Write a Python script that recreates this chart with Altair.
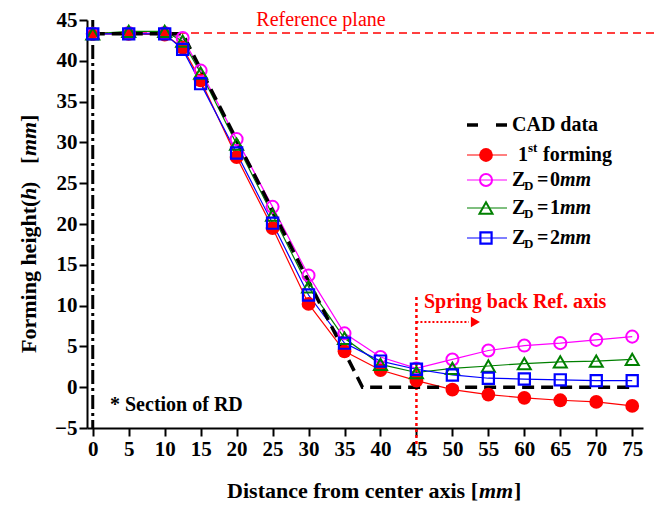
import altair as alt
import pandas as pd

# ---------------- data ----------------
x_vals = [0, 5, 10, 12.5, 15, 20, 25, 30, 35, 40, 45, 50, 55, 60, 65, 70, 75]
first_forming = [43.3, 43.3, 43.2, 41.6, 37.6, 28.2, 19.5, 10.2, 4.4, 2.1, 0.8, -0.3, -0.9, -1.3, -1.6, -1.8, -2.3]
zd0 = [43.3, 43.4, 43.4, 42.8, 38.8, 30.4, 22.1, 13.7, 6.6, 3.7, 2.3, 3.4, 4.5, 5.1, 5.4, 5.8, 6.2]
zd1 = [43.3, 43.6, 43.6, 42.4, 38.5, 29.8, 21.1, 12.3, 6.0, 2.8, 1.8, 2.3, 2.6, 2.9, 3.1, 3.2, 3.4]
zd2 = [43.3, 43.3, 43.3, 41.4, 37.2, 28.7, 20.1, 11.3, 5.4, 3.2, 2.2, 1.5, 1.1, 1.0, 0.9, 0.8, 0.8]
cad_x = [0, 12.5, 37.5, 75]
cad_y = [43.3, 43.3, 0, 0]
reference_plane = 43.4
spring_back_axis = 45
spring_arrow_end = 52.3
spring_arrow_head = 53.2
x_ticks = list(range(0, 80, 5))
y_ticks = list(range(-5, 50, 5))

series_names = ["1st forming", "ZD=0mm", "ZD=1mm", "ZD=2mm"]
series_values = [first_forming, zd0, zd1, zd2]
series_colors = ["#ff0000", "#ff00ff", "#008000", "#0000ff"]

rows = []
for name, vals in zip(series_names, series_values):
    for xv, yv in zip(x_vals, vals):
        rows.append({"series": name, "x": xv, "y": yv})
df = pd.DataFrame(rows)
cad_df = pd.DataFrame({"x": cad_x, "y": cad_y})
one = pd.DataFrame({"a": [0]})

SERIF = "'Liberation Serif', 'Times New Roman', Times, 'DejaVu Serif', serif"
W, H = 556, 408

xs = alt.Scale(domain=[-0.8, 76.5], nice=False, zero=False)
ys = alt.Scale(domain=[-5, 45], nice=False, zero=False)
x_axis = alt.Axis(values=x_ticks, title=None, grid=False, format="d")
y_axis = alt.Axis(values=y_ticks, title=None, grid=False, format="d")


def X(field="x"):
    return alt.X(f"{field}:Q", scale=xs, axis=x_axis)


def Y(field="y"):
    return alt.Y(f"{field}:Q", scale=ys, axis=y_axis)


layers = []

# vertical centre axis (dash-dot)
layers.append(
    alt.Chart(one).mark_rule(color="black", strokeWidth=3, strokeDash=[14, 4, 3, 4]).encode(
        x=alt.X(datum=0, scale=xs, axis=x_axis), y=alt.value(0), y2=alt.value(H)
    )
)

# reference plane
layers.append(
    alt.Chart(one).mark_rule(color="#ff0000", strokeWidth=1.5, strokeDash=[8, 5]).encode(
        y=alt.Y(datum=reference_plane, scale=ys, axis=y_axis), x=alt.value(0), x2=alt.value(W + 14)
    )
)

# spring back axis
layers.append(
    alt.Chart(one).mark_rule(color="#ff0000", strokeWidth=2.5, strokeDash=[3, 3]).encode(
        x=alt.X(datum=spring_back_axis, scale=xs, axis=x_axis), y=alt.value(277), y2=alt.value(425)
    )
)
layers.append(
    alt.Chart(one).mark_rule(color="#ff0000", strokeWidth=2, strokeDash=[2, 2]).encode(
        x=alt.X(datum=spring_back_axis, scale=xs, axis=x_axis),
        x2=alt.X2(datum=spring_arrow_end),
        y=alt.value(302),
    )
)
layers.append(
    alt.Chart(one).mark_point(shape="triangle-right", filled=True, color="#ff0000", size=110, opacity=1).encode(
        x=alt.X(datum=spring_arrow_head, scale=xs, axis=x_axis), y=alt.value(302)
    )
)

# series lines
layers.append(
    alt.Chart(df).mark_line(strokeWidth=1.2).encode(
        x=X(), y=Y(),
        color=alt.Color("series:N", scale=alt.Scale(domain=series_names, range=series_colors), legend=None),
        detail="series:N",
    )
)

# CAD data
layers.append(
    alt.Chart(cad_df).mark_line(color="black", strokeWidth=3.5, strokeDash=[12, 7]).encode(x=X(), y=Y())
)

# markers
marker_specs = [
    ("1st forming", dict(shape="circle", filled=True, size=190, color="#ff0000", opacity=1)),
    ("ZD=0mm", dict(shape="circle", filled=False, size=145, color="#ff00ff", strokeWidth=2, opacity=1)),
    ("ZD=1mm", dict(shape="triangle-up", filled=False, size=170, color="#008000", strokeWidth=2, opacity=1)),
    ("ZD=2mm", dict(shape="square", filled=False, size=125, color="#0000ff", strokeWidth=2.2, opacity=1)),
]
for name, spec in marker_specs:
    sub = df[df["series"] == name]
    layers.append(alt.Chart(sub).mark_point(**spec).encode(x=X(), y=Y()))


# ---------------- annotations ----------------
def txt(text, x, y, size=20, weight="bold", style="normal", color="black", align="left", angle=0, baseline="middle"):
    kw = dict(font=SERIF, fontSize=size, fontWeight=weight, fontStyle=style, color=color,
              align=align, baseline=baseline)
    if angle:
        kw["angle"] = angle
    return alt.Chart(pd.DataFrame({"t": [text]})).mark_text(**kw).encode(
        text="t:N", x=alt.value(x), y=alt.value(y)
    )


layers.append(txt("Reference plane", 234, 0, size=20, weight="normal", color="#ff0000", align="center"))
layers.append(txt("Spring back Ref. axis", 337, 282, size=20, color="#ff0000"))
layers.append(txt("* Section of RD", 23, 385, size=20))

# x title
layers.append(txt("Distance from center axis [", 391, 471, size=22, align="right"))
layers.append(txt("mm", 392, 471, size=22, style="italic"))
layers.append(txt("]", 427, 471, size=22))

# y title (rotated)
yt_x = -58
layers.append(txt("Forming height(", yt_x, 333, size=22, angle=270))
layers.append(txt("h", yt_x, 180, size=22, style="italic", angle=270))
layers.append(txt(")", yt_x, 169, size=22, angle=270))
layers.append(txt("[", yt_x, 144, size=22, angle=270))
layers.append(txt("mm", yt_x, 136, size=22, style="italic", angle=270))
layers.append(txt("]", yt_x, 102, size=22, angle=270))

# legend
LX1, LX2, LM, LT = 380, 420, 399, 425
row_y = [105, 135, 160, 188, 218]
layers.append(
    alt.Chart(one).mark_rule(color="black", strokeWidth=3.5, strokeDash=[11, 18]).encode(
        x=alt.value(LX1), x2=alt.value(LX1 + 41), y=alt.value(row_y[0])
    )
)
layers.append(txt("CAD data", LT, row_y[0]))
for (name, spec), ry, col in zip(marker_specs, row_y[1:], series_colors):
    layers.append(
        alt.Chart(one).mark_rule(color=col, strokeWidth=1.2).encode(
            x=alt.value(LX1), x2=alt.value(LX2), y=alt.value(ry)
        )
    )
    layers.append(alt.Chart(one).mark_point(**spec).encode(x=alt.value(LM), y=alt.value(ry)))

# 1st forming
layers.append(txt("1", 431, row_y[1]))
layers.append(txt("st", 441, row_y[1] - 7, size=13))
layers.append(txt("forming", 456, row_y[1]))
# Z_D rows
for ry, num in zip(row_y[2:], ["0", "1", "2"]):
    layers.append(txt("Z", LT, ry))
    layers.append(txt("D", 437, ry + 6, size=13))
    layers.append(txt("=", 450, ry))
    layers.append(txt(num, 463, ry))
    layers.append(txt("mm", 473, ry, style="italic"))

chart = (
    alt.layer(*layers)
    .properties(
        width=W,
        height=H,
        autosize=alt.AutoSizeParams(type="none"),
        padding={"left": 79, "top": 12, "right": 14, "bottom": 75},
    )
    .configure_view(stroke=None)
    .configure_axis(
        domainColor="black",
        domainWidth=2,
        tickColor="black",
        tickWidth=2,
        tickSize=8,
        labelFont=SERIF,
        labelFontWeight="bold",
        labelFontSize=21,
        labelColor="black",
        labelPadding=2,
        grid=False,
    )
)

chart.save("out.html", embed_options={"renderer": "svg", "actions": False})
